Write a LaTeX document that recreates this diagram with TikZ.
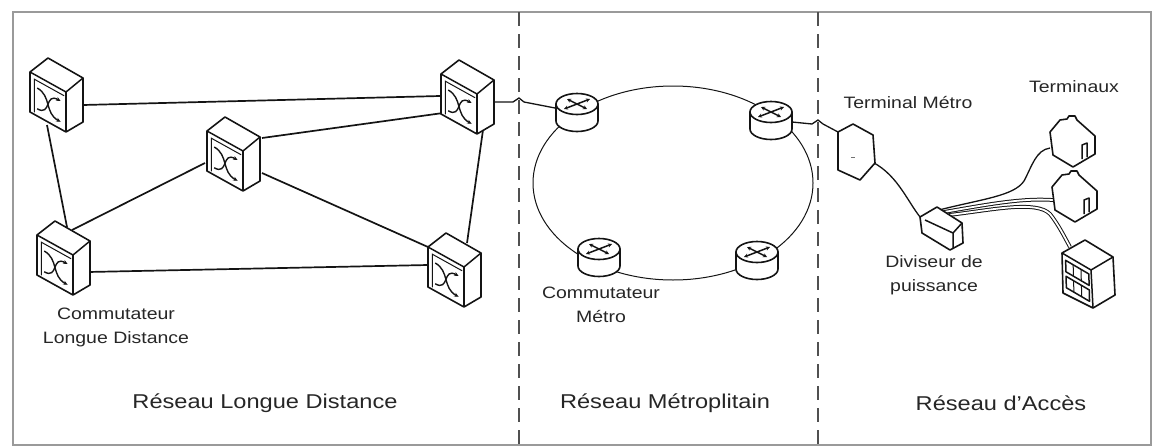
\documentclass[tikz,border=0pt]{standalone}
\usepackage{fontspec}
\setmainfont{Liberation Sans}[FakeStretch=1.18]
\usetikzlibrary{arrows.meta,calc}
\definecolor{ink}{HTML}{141414}
\definecolor{txt}{HTML}{262626}
\definecolor{framecol}{HTML}{9A9A9A}
\definecolor{dashcol}{HTML}{505050}
\tikzset{
  pt/.style={inner sep=0pt,minimum size=0pt},
  icon/.style={draw=ink,line width=1.6pt,line join=round,fill=white},
  edge/.style={draw=ink,line width=1.5pt,line join=round},
  thinedge/.style={draw=ink,line width=1pt},
  link/.style={draw=ink,line width=1.7pt},
  cable/.style={draw=ink,line width=1.3pt},
  dcable/.style={draw=ink,line width=1pt,double=white,double distance=1.8pt},
  sym/.style={draw=ink,line width=1.4pt,-{Stealth[length=4.5pt,width=4pt]}},
  rsym/.style={draw=ink,line width=1.5pt,{Stealth[length=4pt,width=4pt]}-{Stealth[length=4pt,width=4pt]}},
  small/.style={text=txt,font=\fontsize{16.5}{24}\selectfont,align=center},
  big/.style={text=txt,font=\fontsize{20}{24}\selectfont},
  ldswitch/.pic={
    \path[icon] (-26,-22) -- (-8,-36) -- (27,-16) -- (27,28) -- (10,38) -- (-26,18) -- cycle;
    \path[edge] (-26,-22) -- (10,-2) -- (27,-16);
    \path[edge] (10,-2) -- (10,38);
    \begin{scope}[shift={(-26,-22)}]
    \begin{scope}[x={(36pt,-20pt)},y={(0pt,-40pt)}]
      \path[thinedge] (0.12,0.95) -- (0.12,0.12) -- (0.95,0.12);
      \path[sym] (0.2,0.3) .. controls (0.6,0.3) and (0.4,0.82) .. (0.85,0.82);
      \path[sym] (0.2,0.82) .. controls (0.6,0.82) and (0.4,0.3) .. (0.85,0.3);
    \end{scope}
    \end{scope}
  },
  metrorouter/.pic={
    \path[icon] (-21,-8) -- (-21,9) arc[start angle=180,end angle=360,x radius=21pt,y radius=10.5pt] -- (21,-8) -- cycle;
    \path[icon] (0,-8) ellipse [x radius=21pt,y radius=10.5pt];
    \path[rsym] (-13,-3) -- (13,-13);
    \path[rsym] (-10,-13) -- (10,-3);
  },
  termbox/.pic={
    \path[icon] (-18,-20) -- (-3,-28) -- (17,-17) -- (19,11) -- (4,28) -- (-18,18) -- cycle;
    \path[draw=ink!60,line width=0.8pt] (-5,5) -- (-1,5);
  },
  splitbox/.pic={
    \path[icon] (-21,-12) -- (-4,-22) -- (21,-6) -- (22,14) -- (9,21) -- (-19,4) -- cycle;
    \path[edge] (-16,-9) -- (12,4) -- (12,19);
    \path[edge] (12,4) -- (21,-6);
  },
  house/.pic={
    \path[icon] (-23,-10) -- (-13,-22) -- (-6,-23) -- (-4,-26) -- (2,-26) -- (4,-22) -- (22,-6) -- (22,12) -- (0,25) -- (-20,13) -- cycle;
    \path[edge] (9,17) -- (9,3) -- (14,1) -- (14,15);
  },
  office/.pic={
    \path[icon] (-26,-20) -- (-3,-33) -- (25,-16) -- (27,22) -- (5,35) -- (-25,20) -- cycle;
    \path[edge] (-26,-20) -- (3,-3) -- (25,-16);
    \path[edge] (3,-3) -- (5,35);
    \begin{scope}[shift={(-26,-20)}]
    \begin{scope}[x={(29pt,-17pt)},y={(1pt,-38pt)}]
      \foreach \ra/\rb in {0.14/0.44,0.56/0.86}{
        \path[edge] (0.12,\ra) -- (0.92,\ra) -- (0.92,\rb) -- (0.12,\rb) -- cycle;
        \path[thinedge] (0.38,\ra) -- (0.38,\rb);
        \path[thinedge] (0.65,\ra) -- (0.65,\rb);
      }
    \end{scope}
    \end{scope}
  }
}
\begin{document}
\begin{tikzpicture}[x=1pt,y=-1pt]
\useasboundingbox (0,0) rectangle (1153,447);
% frame
\draw[framecol,line width=1.5pt] (13,12) rectangle (1151,445);
% dashed separators
\coordinate (d1t) at (519,12); \coordinate (d1b) at (519,447);
\coordinate (d2t) at (818,12); \coordinate (d2b) at (818,447);
\draw[dashcol,line width=1.8pt,dash pattern=on 14pt off 8pt] (d1t) -- (d1b);
\draw[dashcol,line width=1.8pt,dash pattern=on 14pt off 8pt] (d2t) -- (d2b);
% node positions
\node[pt] (S1) at (56,94) {};
\node[pt] (S2) at (233,153) {};
\node[pt] (S3) at (467,96) {};
\node[pt] (S4) at (63,257) {};
\node[pt] (S5) at (454,269) {};
\node[pt] (R1) at (577,112) {};
\node[pt] (R2) at (771,120) {};
\node[pt] (R3) at (599,257) {};
\node[pt] (R4) at (757,260) {};
\node[pt] (ring) at (673,183) {};
\node[pt] (TM) at (856,152) {};
\node[pt] (SP) at (941,229) {};
\node[pt] (H1) at (1073,142) {};
\node[pt] (H2) at (1075,197) {};
\node[pt] (OF) at (1088,273) {};
\coordinate (j1) at (519,98);
\coordinate (j2) at (818,120);
% metro ring
\draw[ink,line width=1pt] (ring) ellipse [x radius=140pt,y radius=97pt];
% long distance links
\draw[link] ($(S1)+(27,11)$) -- ($(S3)+(-27,0)$);
\draw[link] ($(S1)+(-9,31)$) -- ($(S4)+(4,-30)$);
\draw[link] ($(S4)+(9,-27)$) -- ($(S2)+(-28,10)$);
\draw[link] ($(S2)+(29,-15)$) -- ($(S3)+(-24,17)$);
\draw[link] ($(S2)+(29,20)$) -- ($(S5)+(-26,-22)$);
\draw[link] ($(S4)+(25,15)$) -- ($(S5)+(-26,-4)$);
\draw[link] ($(S3)+(16,34)$) -- ($(S5)+(13,-26)$);
% inter-network links
\draw[ink,line width=1.3pt] ($(S3)+(28,6)$) -- ($(j1)+(-6,4)$) -- (j1) -- ($(j1)+(5,4)$) -- ($(R1)+(-22,-4)$);
\draw[ink,line width=1.3pt] ($(R2)+(21,2)$) -- ($(j2)+(-6,4)$) -- (j2) -- ($(j2)+(5,4)$) -- ($(TM)+(-18,-20)$);
% access cables
\draw[cable] ($(TM)+(12,8)$) .. controls ($(TM)+(40,20)$) and ($(SP)+(-35,-30)$) .. ($(SP)+(-21,-12)$);
\draw[cable] ($(SP)+(-2,-19)$) .. controls (982,199) and (1014,196) .. (1024,181) .. controls (1032,166) and (1036,150) .. ($(H1)+(-23,6)$);
\draw[dcable] ($(SP)+(3,-17)$) .. controls (990,204) and (1022,198) .. ($(H2)+(-22,3)$);
\draw[dcable] ($(SP)+(8,-14)$) .. controls (992,210) and (1036,200) .. (1050,214) .. controls (1058,224) and (1064,236) .. ($(OF)+(-18,-26)$);
% icons
\pic at (S1) {ldswitch};
\pic at (S2) {ldswitch};
\pic at (S3) {ldswitch};
\pic at (S4) {ldswitch};
\pic at (S5) {ldswitch};
\pic at (R1) {metrorouter};
\pic at (R2) {metrorouter};
\pic at (R3) {metrorouter};
\pic at (R4) {metrorouter};
\pic at (TM) {termbox};
\pic at (SP) {splitbox};
\pic at (H1) {house};
\pic at (H2) {house};
\pic at (OF) {office};
% labels
\node[small] (lLD) at (116,327) {Commutateur\\Longue Distance};
\node[small] (lMS) at (601,305) {Commutateur\\Métro};
\node[small] (lTM) at (908,103) {Terminal Métro};
\node[small] (lTE) at (1074,87) {Terminaux};
\node[small] (lDP) at (934,275) {Diviseur de\\puissance};
\node[big] (n1) at (265,403) {Réseau Longue Distance};
\node[big] (n2) at (665,403) {Réseau Métroplitain};
\node[big] (n3) at (1001,403) {Réseau d'Accès};
\end{tikzpicture}
\end{document}
